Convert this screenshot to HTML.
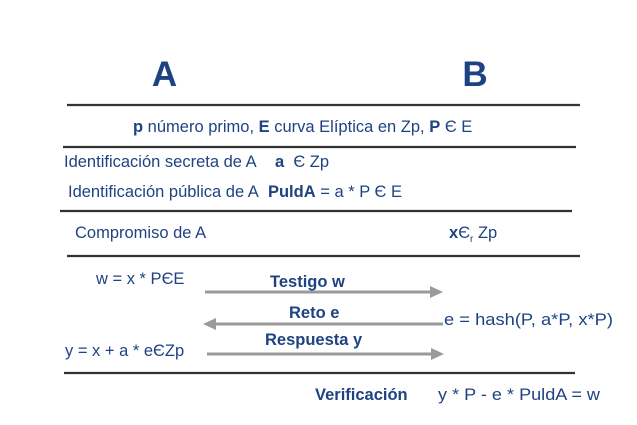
<!DOCTYPE html>
<html><head><meta charset="utf-8"><style>
html,body{margin:0;padding:0;background:#fff;}
svg{display:block;}
text{font-family:"Liberation Sans",Arial,sans-serif;fill:#1f4283;font-size:16.5px;}
.b{font-weight:bold;}
</style></head><body>
<svg width="637" height="425" viewBox="0 0 637 425" xmlns="http://www.w3.org/2000/svg">
<text x="164.5" y="86" class="b" style="font-size:35px" text-anchor="middle">A</text>
<text x="475" y="86" class="b" style="font-size:35px" text-anchor="middle">B</text>
<g stroke="#333" stroke-width="2.2">
<line x1="67" y1="105" x2="580" y2="105"/>
<line x1="63" y1="147" x2="576" y2="147"/>
<line x1="60" y1="211" x2="572" y2="211"/>
<line x1="67" y1="256" x2="580" y2="256"/>
<line x1="64" y1="373" x2="575" y2="373"/>
</g>
<text x="133" y="132"><tspan class="b">p</tspan> número primo, <tspan class="b">E</tspan> curva Elíptica en Zp, <tspan class="b">P</tspan> Є E</text>
<text x="64" y="167">Identificación secreta de A&#160;&#160;&#160; <tspan class="b">a</tspan>&#160; Є Zp</text>
<text x="68" y="197">Identificación pública de A&#160; <tspan class="b">PuldA</tspan> = a * P Є E</text>
<text x="75" y="238">Compromiso de A</text>
<text x="449" y="238"><tspan class="b">x</tspan>Є<tspan style="font-size:10px" dy="4">r</tspan><tspan dy="-4"> Zp</tspan></text>
<text x="96" y="284">w = x * PЄE</text>
<text x="270" y="287" class="b">Testigo w</text>
<text x="289" y="318" class="b">Reto e</text>
<text x="444" y="325" textLength="169" lengthAdjust="spacingAndGlyphs">e = hash(P, a*P, x*P)</text>
<text x="265" y="345" class="b">Respuesta y</text>
<text x="65" y="356">y = x + a * eЄZp</text>
<text x="315" y="400" class="b">Verificación</text>
<text x="438" y="400" textLength="162" lengthAdjust="spacingAndGlyphs">y * P - e * PuldA = w</text>
<g stroke="#9a9a9a" stroke-width="3" fill="#9a9a9a">
<line x1="205" y1="292" x2="432" y2="292"/>
<polygon points="430,286 443,292 430,298" stroke="none"/>
<line x1="214" y1="324" x2="443" y2="324"/>
<polygon points="216,318 203,324 216,330" stroke="none"/>
<line x1="207" y1="354" x2="433" y2="354"/>
<polygon points="431,348 444,354 431,360" stroke="none"/>
</g>
</svg>
</body></html>
